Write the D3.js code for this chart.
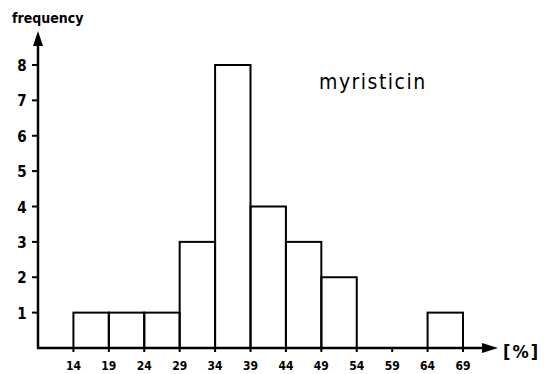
<!DOCTYPE html>
<html>
<head>
<meta charset="utf-8">
<script src="https://cdn.jsdelivr.net/npm/d3@7"></script>
<style>
  body { margin: 0; background: #fff; }
  text { font-family: "DejaVu Sans Condensed", "DejaVu Sans", sans-serif; fill: #000; }
</style>
</head>
<body>
<div id="chart"></div>
<script>
var svgWidth = 548;
var svgHeight = 374;

// histogram bins (% myristicin) and counts
var binEdges = [14, 19, 24, 29, 34, 39, 44, 49, 54, 59, 64, 69];
var binLabels = ["14", "19", "24", "29", "34", "39", "44", "49", "54", "59", "64", "69"];
var counts = [1, 1, 1, 3, 8, 4, 3, 2, 0, 0, 1];
var yTicks = [1, 2, 3, 4, 5, 6, 7, 8];

var svg = d3.select("#chart")
  .append("svg")
  .attr("width", svgWidth)
  .attr("height", svgHeight);

var x = d3.scaleLinear().domain([9, 69]).range([38, 463]);
var y = d3.scaleLinear().domain([0, 8]).range([348, 65]);

var bins = counts.map(function(c, i) {
  return { x0: binEdges[i], x1: binEdges[i + 1], n: c };
});

// bars
svg.selectAll("rect.bar")
  .data(bins.filter(d => d.n > 0))
  .enter()
  .append("rect")
  .attr("class", "bar")
  .attr("x", d => x(d.x0))
  .attr("y", d => y(d.n))
  .attr("width", d => x(d.x1) - x(d.x0))
  .attr("height", d => y(0) - y(d.n))
  .attr("fill", "none")
  .attr("stroke", "#000")
  .attr("stroke-width", 2);

// y axis line + arrow
svg.append("line")
  .attr("x1", x(9)).attr("y1", y(0) + 1)
  .attr("x2", x(9)).attr("y2", 44)
  .attr("stroke", "#000").attr("stroke-width", 2.5);
svg.append("path")
  .attr("d", `M${x(9)},31 L${x(9) - 5},46 L${x(9) + 5},46 Z`)
  .attr("fill", "#000");

// x axis line + arrow
svg.append("line")
  .attr("x1", x(9) - 1).attr("y1", y(0))
  .attr("x2", 484).attr("y2", y(0))
  .attr("stroke", "#000").attr("stroke-width", 2.5);
svg.append("path")
  .attr("d", `M498,${y(0)} L482,${y(0) - 5} L482,${y(0) + 5} Z`)
  .attr("fill", "#000");

// y ticks
var yt = svg.append("g");
yt.selectAll("line")
  .data(yTicks)
  .enter()
  .append("line")
  .attr("x1", x(9) - 6).attr("x2", x(9))
  .attr("y1", d => y(d)).attr("y2", d => y(d))
  .attr("stroke", "#000").attr("stroke-width", 2);
yt.selectAll("text")
  .data(yTicks)
  .enter()
  .append("text")
  .attr("x", 22)
  .attr("y", d => y(d) + 6)
  .attr("text-anchor", "middle")
  .style("font-size", "15px")
  .style("font-weight", "bold")
  .text(d => d);

// x ticks
var xt = svg.append("g");
xt.selectAll("line")
  .data(binEdges)
  .enter()
  .append("line")
  .attr("x1", d => x(d)).attr("x2", d => x(d))
  .attr("y1", y(0)).attr("y2", y(0) + 4)
  .attr("stroke", "#000").attr("stroke-width", 2);
xt.selectAll("text")
  .data(binEdges)
  .enter()
  .append("text")
  .attr("x", d => x(d))
  .attr("y", 370)
  .attr("text-anchor", "middle")
  .style("font-size", "12px")
  .style("font-weight", "bold")
  .text((d, i) => binLabels[i]);

// axis titles
svg.append("text")
  .attr("x", 12).attr("y", 23)
  .style("font-size", "14px")
  .style("font-weight", "bold")
  .text("frequency");

svg.append("text")
  .attr("x", 503).attr("y", 358)
  .style("font-size", "18px")
  .style("font-weight", "bold")
  .style("letter-spacing", "2px")
  .text("[%]");

svg.append("text")
  .attr("x", 319).attr("y", 89)
  .style("font-size", "21px")
  .style("letter-spacing", "1.5px")
  .text("myristicin");
</script>
</body>
</html>
